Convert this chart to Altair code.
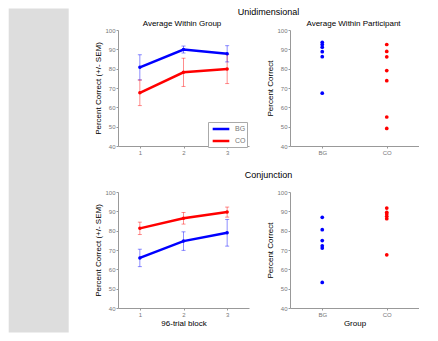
import altair as alt
import pandas as pd

# ---------------- data ----------------
blocks = [1, 2, 3]
groups = ["BG", "CO"]

uni_bg_mean = [80.7, 89.9, 87.7]
uni_bg_sem = [6.5, 1.8, 4.2]
uni_co_mean = [67.5, 78.1, 79.8]
uni_co_sem = [6.6, 7.3, 7.5]

conj_bg_mean = [65.9, 74.6, 78.9]
conj_bg_sem = [4.5, 4.8, 6.9]
conj_co_mean = [81.2, 86.4, 89.6]
conj_co_sem = [3.2, 3.0, 2.6]

uni_part_bg = [93.6, 92.5, 91.1, 88.8, 86.2, 67.3]
uni_part_co = [92.5, 88.9, 86.1, 79.0, 73.8, 55.0, 49.1]
conj_part_bg = [86.9, 80.5, 74.9, 72.2, 71.0, 53.2]
conj_part_co = [91.7, 89.5, 88.6, 87.4, 86.2, 67.5]

y_ticks = [40, 50, 60, 70, 80, 90, 100]
row_titles = ["Unidimensional", "Conjunction"]
panel_titles = ["Average Within Group", "Average Within Participant"]

FONT = "Liberation Sans"
BLUE = "#0000ff"
RED = "#ff0000"
COLORS = {"BG": BLUE, "CO": RED}

W1, W2, H = 131, 129, 116


def group_df(bg_mean, bg_sem, co_mean, co_sem):
    rows = []
    for g, means, sems in (("BG", bg_mean, bg_sem), ("CO", co_mean, co_sem)):
        for b, m, s in zip(blocks, means, sems):
            rows.append(dict(block=b, group=g, col=COLORS[g], mean=m, lo=m - s, hi=m + s))
    return pd.DataFrame(rows)


def part_df(bg, co):
    rows = [dict(group="BG", col=BLUE, pc=v) for v in bg]
    rows += [dict(group="CO", col=RED, pc=v) for v in co]
    return pd.DataFrame(rows)


yscale = alt.Scale(domain=[40, 100], nice=False, zero=False)


def label(text, x, y, size):
    return alt.Chart(alt.Data(values=[{"t": text}])).mark_text(
        font=FONT, fontSize=size, color="black", align="center", baseline="alphabetic"
    ).encode(text="t:N", x=alt.value(x), y=alt.value(y))


def line_panel(df, title, xtitle, with_legend, row_text, row_y, strip=False):
    base = alt.Chart(df)
    x = alt.X("block:Q", scale=alt.Scale(domain=[0.5, 3.5], nice=False, zero=False),
              axis=alt.Axis(values=blocks, format="d", title=xtitle))
    yax = alt.Axis(values=y_ticks, title="Percent Correct (+/- SEM)")
    if with_legend:
        color = alt.Color("group:N", scale=alt.Scale(domain=groups, range=[BLUE, RED]),
                          legend=alt.Legend(orient="none", legendX=90, legendY=92, title=None,
                                            symbolType="M-1.85,0H1.85", symbolSize=81,
                                            symbolStrokeWidth=2.5, symbolOffset=6,
                                            symbolOpacity=1,
                                            labelOffset=8, labelFontSize=7, labelColor="#777777",
                                            labelFont=FONT, rowPadding=1, padding=1,
                                            strokeColor="#aaaaaa", fillColor="white"))
    else:
        color = alt.Color("col:N", scale=None)
    line = base.mark_line(strokeWidth=2.5).encode(
        x=x, y=alt.Y("mean:Q", scale=yscale, axis=yax), color=color, detail="group:N")
    err = base.mark_rule(strokeWidth=1, opacity=0.45).encode(
        x=x, y=alt.Y("lo:Q", scale=yscale, axis=yax), y2="hi:Q", color=color)
    cap_lo = base.mark_tick(orient="horizontal", size=4, thickness=1, opacity=0.45).encode(
        x=x, y=alt.Y("lo:Q", scale=yscale, axis=yax), color=color)
    cap_hi = base.mark_tick(orient="horizontal", size=4, thickness=1, opacity=0.45).encode(
        x=x, y=alt.Y("hi:Q", scale=yscale, axis=yax), color=color)
    pts = base.mark_circle(size=12, opacity=1).encode(
        x=x, y=alt.Y("mean:Q", scale=yscale, axis=yax), color=color)
    layers = [line, err, cap_lo, cap_hi, pts, label(row_text, 150.5, row_y, 9)]
    if title:
        layers.append(label(title, 64, -4, 8))
    if strip:
        grey = alt.Chart(alt.Data(values=[{}])).mark_rect(color="#dddddd").encode(
            x=alt.value(-109.3), x2=alt.value(-49.3), y=alt.value(-21.5), y2=alt.value(302.5))
        layers = [grey] + layers
    return alt.layer(*layers).properties(width=W1, height=H)


def scatter_panel(df, title, xtitle):
    pts = alt.Chart(df).mark_circle(size=14, opacity=1).encode(
        x=alt.X("group:N", scale=alt.Scale(domain=groups, padding=0.5),
                axis=alt.Axis(labelAngle=0, title=xtitle)),
        y=alt.Y("pc:Q", scale=yscale, axis=alt.Axis(values=y_ticks, title="Percent Correct")),
        color=alt.Color("col:N", scale=None),
    )
    layers = [pts]
    if title:
        layers.append(label(title, 63.5, -4, 8))
    return alt.layer(*layers).properties(width=W2, height=H)


tl = line_panel(group_df(uni_bg_mean, uni_bg_sem, uni_co_mean, uni_co_sem),
                panel_titles[0], None, True, row_titles[0], -15, strip=True)
tr = scatter_panel(part_df(uni_part_bg, uni_part_co), panel_titles[1], None)
bl = line_panel(group_df(conj_bg_mean, conj_bg_sem, conj_co_mean, conj_co_sem),
                None, "96-trial block", False, row_titles[1], -14)
br = scatter_panel(part_df(conj_part_bg, conj_part_co), None, "Group")

chart = alt.concat(tl, tr, bl, br, columns=2, spacing={"row": 46, "column": 41},
                   bounds="flush").resolve_scale(
    color="independent").resolve_legend(color="independent").properties(
    padding=0, background="white"
).configure_view(stroke=None).configure_axis(
    grid=False, domainColor="#999999", domainWidth=1, tickColor="#999999", tickSize=2,
    labelColor="#777777", labelFontSize=6, labelFont=FONT, labelPadding=1,
    titleFont=FONT, titleFontSize=8, titleColor="black", titleFontWeight="normal",
    titlePadding=2
)

chart.save("out.html", embed_options={"renderer": "svg", "actions": False})
